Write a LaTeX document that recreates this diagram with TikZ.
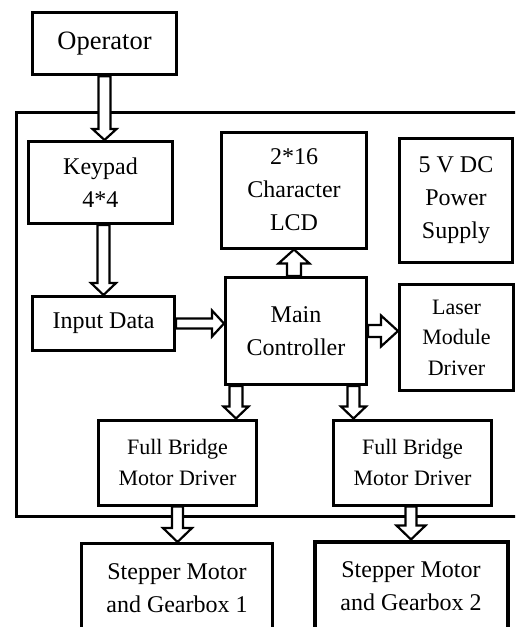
\documentclass[tikz,border=0pt]{standalone}
\usepackage{fontspec}
\setmainfont{Liberation Serif}
\usetikzlibrary{calc}

\tikzset{
  blk/.style={draw, line width=3pt, fill=white, align=center, inner sep=0pt,
              font=\fontsize{24}{33}\selectfont},
  blksmall/.style={blk, font=\fontsize{22}{30.5}\selectfont},
  barrow/.style={draw, line width=2.2pt, fill=white, line join=miter},
  board/.style={draw, line width=3pt}
}

% hollow block arrow from #1 to #2: shaft half width #3, head half width #4, head length #5
\newcommand\blockarrow[5]{%
  \coordinate (ba-a) at (#1);
  \coordinate (ba-b) at (#2);
  \coordinate (ba-c) at ($(ba-b)!#5!(ba-a)$);
  \draw[barrow] ($(ba-a)!#3!90:(ba-b)$) -- ($(ba-c)!#3!90:(ba-b)$)
    -- ($(ba-c)!#4!90:(ba-b)$) -- (ba-b) -- ($(ba-c)!#4!-90:(ba-b)$)
    -- ($(ba-c)!#3!-90:(ba-b)$) -- ($(ba-a)!#3!-90:(ba-b)$) -- cycle;}

\begin{document}
\begin{tikzpicture}[x=1pt, y=-1pt]
\useasboundingbox (0,0) rectangle (515,627);
\clip (0,0) rectangle (515,627);
\fill[white] (0,0) rectangle (515,627);

% controller board outline (runs off the right edge)
\draw[board] (16,112.5) rectangle (540,516);

% blocks
\node[blk, minimum width=144pt, minimum height=62pt, line width=3.3pt,
      font=\fontsize{26.5}{32}\selectfont] (op) at (104.5,43.5) {Operator};
\node[blk, minimum width=144pt, minimum height=82pt, text depth=0pt] (keypad) at (100.5,182.5) {Keypad\\4*4};
\node[blk, minimum width=142pt, minimum height=54pt] (input) at (103.5,323.5) {Input Data};
\node[blk, minimum width=145pt, minimum height=116pt] (lcd) at (294,190) {2*16\\Character\\LCD};
\node[blk, minimum width=141pt, minimum height=107pt] (main) at (296,331) {Main\\Controller};
\node[blk, minimum width=113pt, minimum height=124pt] (power) at (456,200.5) {5 V DC\\Power\\Supply};
\node[blksmall, minimum width=114pt, minimum height=106pt] (laser) at (456.5,337.5) {Laser\\Module\\Driver};
\node[blksmall, minimum width=158pt, minimum height=85pt] (fb1) at (177.5,462.5) {Full Bridge\\Motor Driver};
\node[blksmall, minimum width=158pt, minimum height=85pt] (fb2) at (412.5,462.5) {Full Bridge\\Motor Driver};
\node[blk, minimum width=191pt, minimum height=89pt] (sm1) at (177,588) {Stepper Motor\\and Gearbox 1};
\node[blk, minimum width=193pt, minimum height=89pt, line width=4pt] (sm2) at (411,586) {Stepper Motor\\and Gearbox 2};

% data flow
\blockarrow{op.south}{op.south |- keypad.north}{6pt}{12pt}{11pt}
\blockarrow{input.north |- keypad.south}{input.north}{6pt}{12.5pt}{12pt}
\blockarrow{input.east}{input.east -| main.west}{5pt}{13pt}{12pt}
\blockarrow{[xshift=-2pt]main.north}{[xshift=-2pt]main.north |- lcd.south}{7pt}{15.5pt}{14pt}
\blockarrow{main.east}{main.east -| laser.west}{6pt}{15.5pt}{17pt}
\coordinate (m1) at ([xshift=12pt]main.south west);
\coordinate (m2) at ([xshift=-14.5pt]main.south east);
\blockarrow{m1}{m1 |- fb1.north}{6.5pt}{12.5pt}{12pt}
\blockarrow{m2}{m2 |- fb2.north}{6pt}{12.5pt}{12pt}
\blockarrow{fb1.south}{fb1.south |- sm1.north}{5.5pt}{14.5pt}{14pt}
\blockarrow{[xshift=-1.5pt]fb2.south}{[xshift=-1.5pt]fb2.south |- sm2.north}{5.5pt}{14.5pt}{14pt}
\end{tikzpicture}
\end{document}
